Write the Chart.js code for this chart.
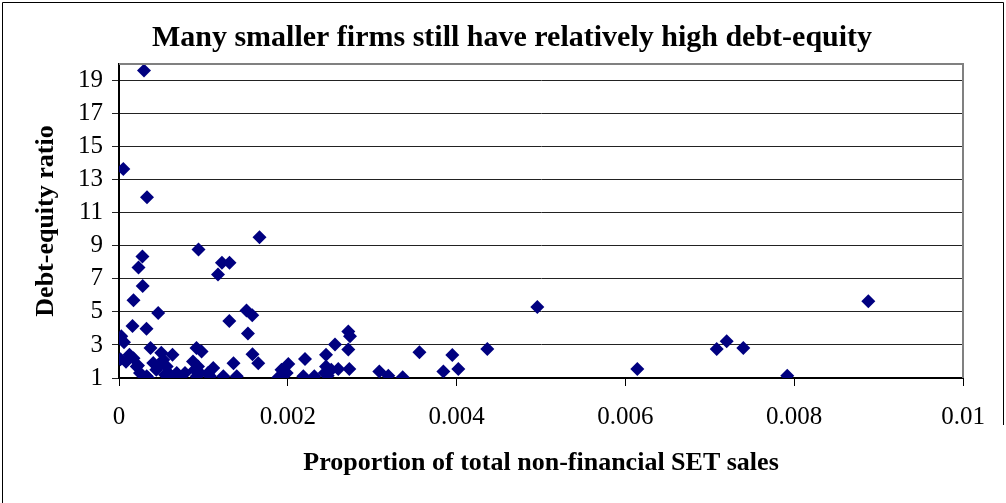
<!DOCTYPE html>
<html>
<head>
<meta charset="utf-8">
<script src="https://cdn.jsdelivr.net/npm/chart.js@4/dist/chart.umd.min.js"></script>
<style>
  html, body { margin: 0; padding: 0; background: #fff; }
  #wrap { position: relative; width: 1006px; height: 503px; }
  canvas { display: block; }
</style>
</head>
<body>
<div id="wrap"><canvas id="c" width="1006" height="503"></canvas></div>
<script>
// Proportion of total non-financial SET sales
const salesShare = [
  0.000296, 0.000051, 0.000332, 0.001665, 0.000942, 0.000278, 0.000231, 0.00122, 0.001309, 0.001173,
  0.000281, 0.000172, 0.000464, 0.001511, 0.001579, 0.001307, 0.00016, 0.000326, 0.001528, 0.000027,
  0.000059, 0.000373, 0.000501, 0.000018, 0.000124, 0.000172, 0.000634, 0.000918, 0.000978, 0.001582,
  0.00165, 0.001357, 0.002006, 0.001925, 0.00189, 0.00021, 0.000249, 0.000328, 0.000406, 0.000466,
  0.000525, 0.000565, 0.000584, 0.000684, 0.000782, 0.000921, 0.00096, 0.001117, 0.001078, 0.001236,
  0.001395, 0.001987, 0.000083, 0.000225, 0.002184, 0.002314, 0.002204, 0.002453, 0.002559, 0.002717,
  0.002737, 0.002717, 0.002598, 0.002729, 0.002453, 0.002473, 0.003084, 0.003191, 0.003361, 0.00356,
  0.003843, 0.00402, 0.003949, 0.004364, 0.004956, 0.006141, 0.007082, 0.0072, 0.007397, 0.007918,
  0.008878, 0.000344, 0.0006, 0.000699, 0.000877, 0.000936, 0.001055, 0.002515, 0.002437, 0.000545,
  0.000442, 0.00062, 0.000897
];
// Debt-equity ratio
const debtEquity = [
  19.6, 13.65, 11.93, 9.52, 8.78, 8.35, 7.68, 7.97, 7.97, 7.26,
  6.56, 5.70, 4.94, 5.08, 4.79, 4.45, 4.14, 3.98, 3.69, 3.52,
  3.17, 2.82, 2.53, 2.14, 2.41, 2.20, 2.41, 2.82, 2.61, 2.44,
  1.90, 1.90, 1.84, 1.50, 1.05, 1.70, 1.30, 1.10, 1.91, 1.70,
  2.11, 1.70, 1.30, 1.30, 1.30, 1.10, 1.30, 1.61, 1.10, 1.10,
  1.10, 1.30, 1.99, 1.75, 1.10, 1.10, 2.15, 2.41, 3.02, 3.82,
  3.52, 2.72, 1.55, 1.55, 1.70, 1.14, 1.40, 1.14, 1.04, 2.56,
  1.40, 1.55, 2.39, 2.76, 5.30, 1.55, 2.76, 3.22, 2.82, 1.14,
  5.64, 1.00, 1.00, 1.00, 2.00, 1.70, 1.30, 1.50, 1.30, 1.20,
  1.50, 1.10, 1.50
];
const xTickValues = [0, 0.002, 0.004, 0.006, 0.008, 0.01];
const xTickLabels = ['0', '0.002', '0.004', '0.006', '0.008', '0.01'];
const yTickValues = [1, 3, 5, 7, 9, 11, 13, 15, 17, 19];
const yTickLabels = ['1', '3', '5', '7', '9', '11', '13', '15', '17', '19'];

const titleText = 'Many smaller firms still have relatively high debt-equity';
const xTitle = 'Proportion of total non-financial SET sales';
const yTitle = 'Debt-equity ratio';

const points = salesShare.map((x, i) => ({ x: x, y: debtEquity[i] }));

const serif = '"Liberation Serif", "Times New Roman", serif';

const framePlugin = {
  id: 'frame',
  beforeDraw(chart) {
    const ctx = chart.ctx;
    ctx.save();
    ctx.fillStyle = '#fff';
    ctx.fillRect(0, 0, chart.width, chart.height);
    ctx.strokeStyle = '#000';
    ctx.lineWidth = 1;
    ctx.beginPath();
    ctx.moveTo(2.5, 503);
    ctx.lineTo(2.5, 2.5);
    ctx.lineTo(1003.5, 2.5);
    ctx.lineTo(1003.5, 425);
    ctx.stroke();
    ctx.restore();
  },
  afterDatasetsDraw(chart) {
    const a = chart.chartArea;
    const ctx = chart.ctx;
    ctx.save();
    ctx.strokeStyle = '#808080';
    ctx.lineWidth = 2;
    ctx.beginPath();
    ctx.moveTo(a.left, a.top);
    ctx.lineTo(a.right, a.top);
    ctx.lineTo(a.right, a.bottom);
    ctx.stroke();
    ctx.restore();
  }
};

new Chart(document.getElementById('c'), {
  type: 'scatter',
  data: {
    datasets: [{
      data: points,
      pointStyle: 'rectRot',
      pointRadius: 7,
      pointHoverRadius: 7,
      backgroundColor: '#000080',
      borderColor: '#000080',
      borderWidth: 0
    }]
  },
  options: {
    responsive: false,
    animation: false,
    events: [],
    layout: { padding: { left: 18, right: 0, top: 0, bottom: 0 } },
    plugins: {
      legend: { display: false },
      tooltip: { enabled: false },
      title: {
        display: true,
        text: titleText,
        color: '#000',
        font: { family: serif, size: 30, weight: 'bold', lineHeight: 1.2 },
        padding: { top: 20, bottom: 8 }
      }
    },
    scales: {
      x: {
        type: 'linear',
        min: 0,
        max: 0.01,
        afterBuildTicks: (s) => { s.ticks = xTickValues.map(v => ({ value: v })); },
        afterFit: (s) => { s.height = 125; },
        ticks: {
          color: '#000',
          font: { family: serif, size: 25 },
          padding: 16,
          maxRotation: 0,
          callback: (v, i) => xTickLabels[i]
        },
        grid: {
          drawOnChartArea: false,
          drawTicks: true,
          tickLength: 8,
          color: '#000'
        },
        border: { display: true, color: '#000', width: 2 },
        title: {
          display: true,
          text: xTitle,
          color: '#000',
          font: { family: serif, size: 26, weight: 'bold' },
          padding: { top: 10, bottom: 24 }
        }
      },
      y: {
        type: 'linear',
        min: 1,
        max: 20,
        afterBuildTicks: (s) => { s.ticks = yTickValues.map(v => ({ value: v })); },
        afterFit: (s) => { s.width = 101; },
        ticks: {
          color: '#000',
          font: { family: serif, size: 25 },
          padding: 9,
          callback: (v, i) => yTickLabels[i]
        },
        grid: {
          drawOnChartArea: true,
          drawTicks: true,
          tickLength: 7,
          color: '#222',
          lineWidth: 1
        },
        border: { display: true, color: '#000', width: 2 },
        title: {
          display: true,
          text: yTitle,
          color: '#000',
          font: { family: serif, size: 26, weight: 'bold' },
          padding: { top: 13, bottom: 13 }
        }
      },
      yRight: {
        type: 'linear',
        position: 'right',
        min: 1,
        max: 20,
        afterFit: (s) => { s.width = 43; },
        ticks: { display: false },
        grid: { display: false, drawTicks: false },
        border: { display: false }
      }
    }
  },
  plugins: [framePlugin]
});
</script>
</body>
</html>
